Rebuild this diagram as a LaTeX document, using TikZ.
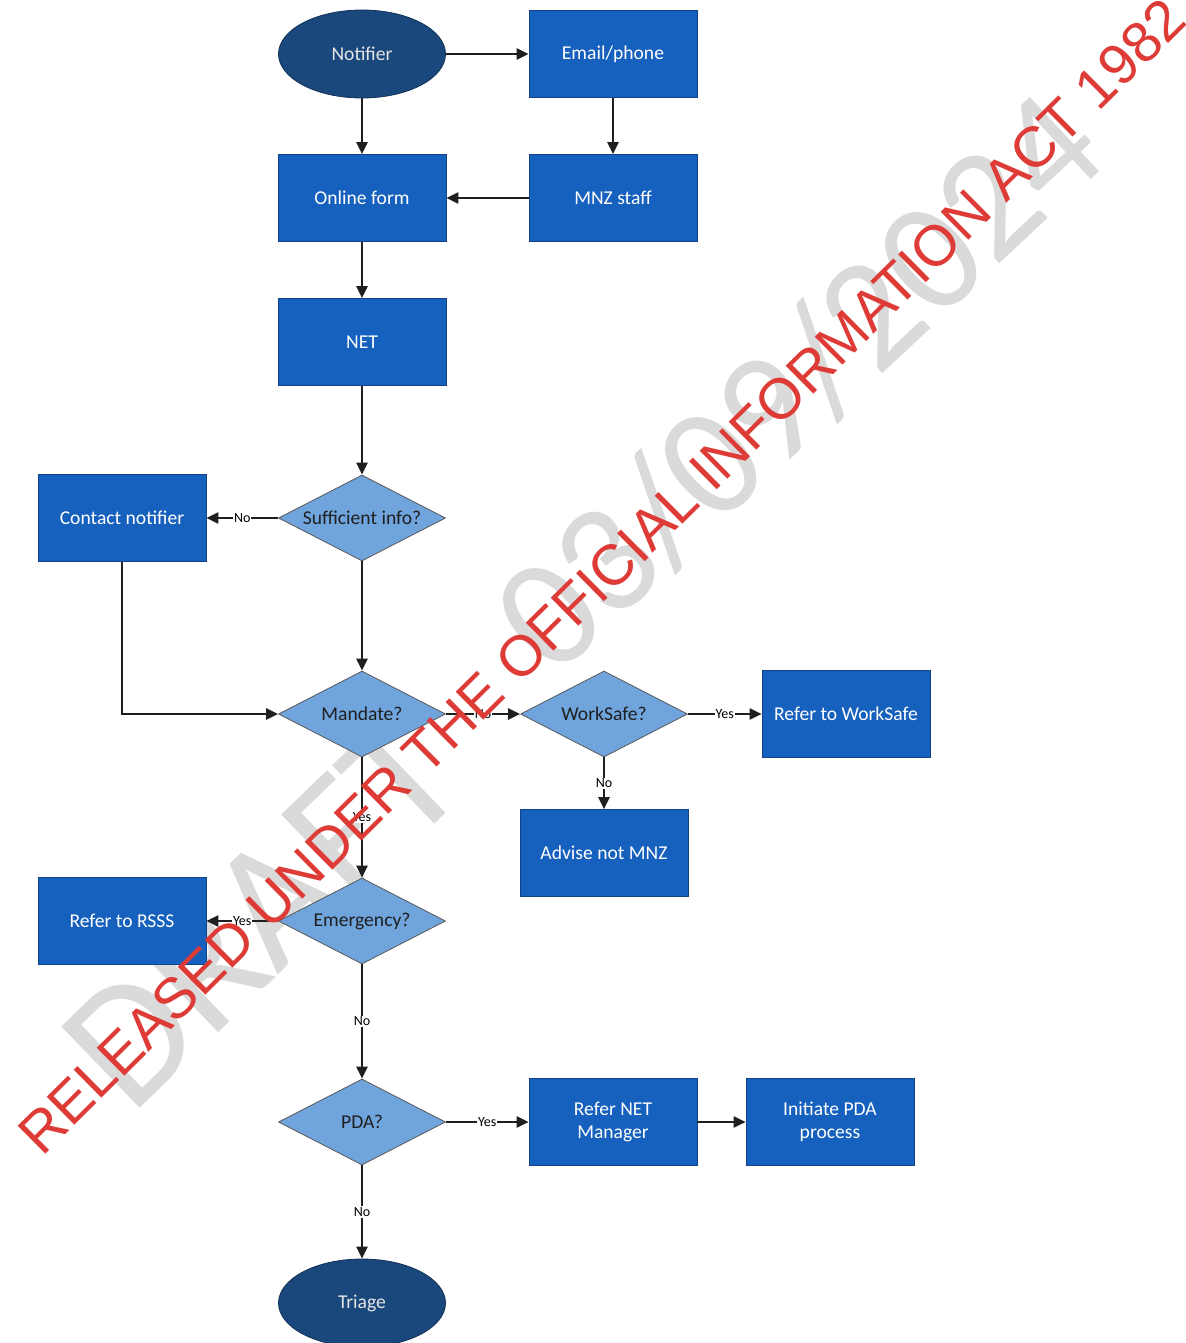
\documentclass[tikz,border=0pt]{standalone}
\usepackage{fontspec}
\setmainfont{Carlito}
\newfontfamily\stampfont{Liberation Sans}
\usetikzlibrary{shapes.geometric,arrows.meta}

\definecolor{procblue}{RGB}{22,96,190}
\definecolor{procedge}{RGB}{18,66,135}
\definecolor{termnavy}{RGB}{27,72,124}
\definecolor{decblue}{RGB}{111,164,220}
\definecolor{stampred}{RGB}{222,58,54}
\definecolor{draftgrey}{RGB}{218,218,218}

\begin{document}
\begin{tikzpicture}[x=0.5pt,y=-0.5pt,
  boxfont/.style={font=\fontsize{9.8}{11.6}\selectfont},
  process/.style={rectangle, draw=procedge, line width=0.4pt, fill=procblue,
    text=white, minimum width=84pt, minimum height=43.5pt, inner sep=2pt,
    align=center, boxfont},
  terminal/.style={ellipse, draw=termnavy!70!black, line width=0.4pt,
    fill=termnavy, text=white!90!black, minimum width=83.5pt,
    minimum height=44pt, inner sep=0pt, boxfont},
  decision/.style={diamond, aspect=1.94, draw=black!65, line width=0.4pt,
    fill=decblue, text=black!88, minimum width=83.5pt, minimum height=43pt,
    inner sep=0pt, boxfont},
  flow/.style={draw=black!88, line width=1pt,
    -{Triangle[length=6pt,width=5.6pt]}},
  lbl/.style={fill=white, inner sep=0.5pt, text=black,
    font=\fontsize{7}{7.5}\selectfont},
  watermark/.style={text=draftgrey, inner sep=0pt}]

\useasboundingbox (0,0) rectangle (1186,1343);
\clip (0,0) rectangle (1186,1343);
\fill[white] (0,0) rectangle (1186,1343);

% draft watermark behind the chart
\node[watermark, rotate=44, font=\fontsize{88}{88}\selectfont]
  (draftword) at (262,912) {DRAFT};
\node[watermark, rotate=43, font=\fontsize{79}{79}\selectfont]
  (draftdate) at (798,382) {03/09/2024};

% nodes
\node[terminal] (notifier) at (362,54)  {Notifier};
\node[process]  (email)    at (613,54)  {Email/phone};
\node[process]  (online)   at (362,198) {Online form};
\node[process]  (mnz)      at (613,198) {MNZ staff};
\node[process]  (net)      at (362,342) {NET};
\node[decision] (suff)     at (362,518) {Sufficient info?};
\node[process]  (contact)  at (122,518) {Contact notifier};
\node[decision] (mandate)  at (362,714) {Mandate?};
\node[decision] (worksafe) at (604,714) {WorkSafe?};
\node[process]  (referws)  at (846,714) {Refer to WorkSafe};
\node[process]  (advise)   at (604,853) {Advise not MNZ};
\node[decision] (emerg)    at (362,921) {Emergency?};
\node[process]  (rsss)     at (122,921) {Refer to RSSS};
\node[decision] (pda)      at (362,1122) {PDA?};
\node[process]  (refernet) at (613,1122) {Refer NET\\Manager};
\node[process]  (initpda)  at (830,1122) {Initiate PDA\\process};
\node[terminal] (triage)   at (362,1303) {Triage};

% connectors
\draw[flow] (notifier) -- (email);
\draw[flow] (notifier) -- (online);
\draw[flow] (email) -- (mnz);
\draw[flow] (mnz) -- (online);
\draw[flow] (online) -- (net);
\draw[flow] (net) -- (suff);
\draw[flow] (suff) -- node[lbl]{No} (contact);
\draw[flow] (suff) -- (mandate);
\draw[flow] (contact.south) |- (mandate.west);
\draw[flow] (mandate) -- node[lbl]{No} (worksafe);
\draw[flow] (worksafe) -- node[lbl]{Yes} (referws);
\draw[flow] (worksafe) -- node[lbl]{No} (advise);
\draw[flow] (mandate) -- node[lbl]{Yes} (emerg);
\draw[flow] (emerg) -- node[lbl]{Yes} (rsss);
\draw[flow] (emerg) -- node[lbl]{No} (pda);
\draw[flow] (pda) -- node[lbl]{Yes} (refernet);
\draw[flow] (refernet) -- (initpda);
\draw[flow] (pda) -- node[lbl]{No} (triage);

% release stamp over the chart
\node[rotate=44.7, text=stampred, inner sep=0pt,
  font=\stampfont\fontsize{28.6}{30}\selectfont] (stamp) at (602,576)
  {RELEASED UNDER THE OFFICIAL INFORMATION ACT 1982};
\end{tikzpicture}
\end{document}
